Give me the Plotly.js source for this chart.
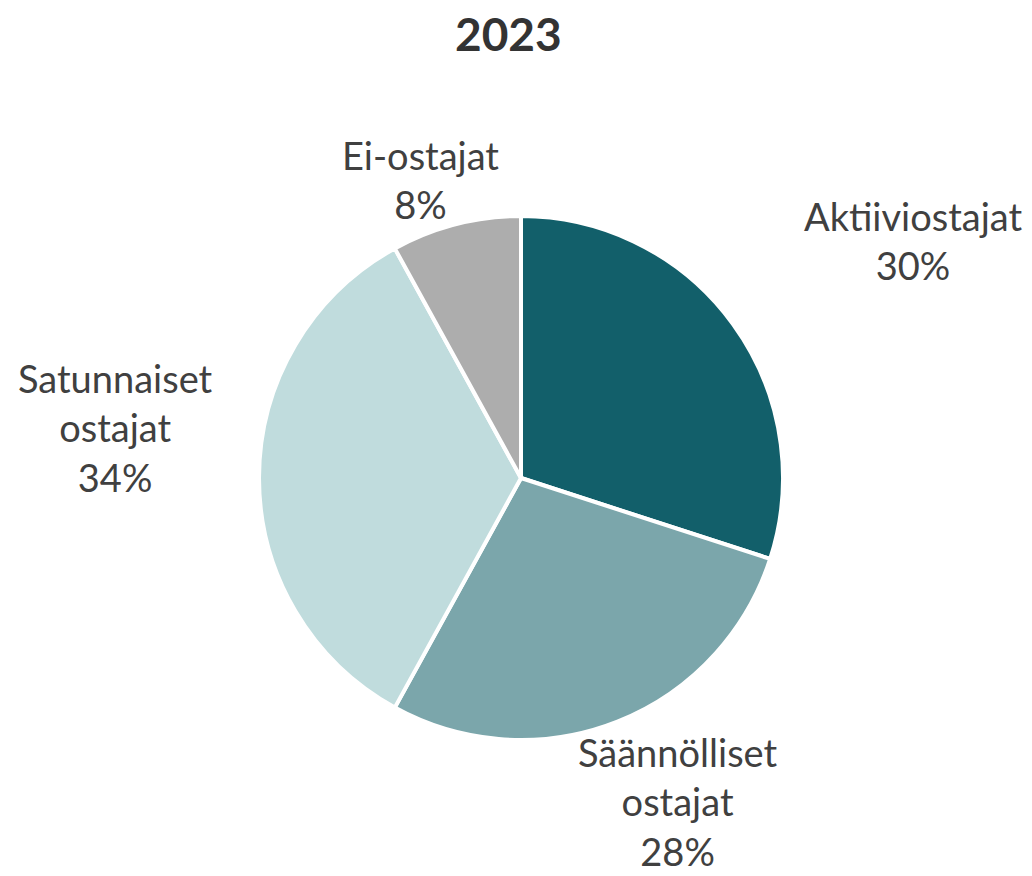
<!DOCTYPE html>
<html>
<head>
<meta charset="utf-8">
<script src="https://cdn.plot.ly/plotly-3.0.1.min.js"></script>
<style>html,body{margin:0;padding:0;background:#fff}#chart{width:1032px;height:876px}</style>
</head>
<body>
<div id="chart"></div>
<script>
const title = '2023';
const labels = ['Aktiiviostajat', 'Säännölliset ostajat', 'Satunnaiset ostajat', 'Ei-ostajat'];
const values = [30, 28, 34, 8];
const colors = ['#125F6A', '#7BA6AB', '#C0DCDD', '#ADADAD'];
// label anchor positions in pixels (center of text block)
const labelPos = [[913, 240], [678, 801], [115, 427], [420, 180]];

const W = 1032, H = 876;
const cx = 521, cy = 478, r = 262;
const total = values.reduce((a, b) => a + b, 0);

const annotations = labels.map((l, i) => ({
  text: l.replace(' ', '<br>') + '<br>' + Math.round(values[i] / total * 100) + '%',
  x: labelPos[i][0] / W, y: 1 - labelPos[i][1] / H,
  xref: 'paper', yref: 'paper', xanchor: 'center', yanchor: 'middle',
  showarrow: false, align: 'center',
  font: {family: 'Lato, "Open Sans", sans-serif', size: 38, color: '#404040'}
}));
annotations.push({
  text: '<b>' + title + '</b>', x: 508 / W, y: 1 - 34 / H, xref: 'paper', yref: 'paper',
  xanchor: 'center', yanchor: 'middle', showarrow: false,
  font: {family: 'Lato, "Open Sans", sans-serif', size: 46, color: '#333333'}
});

Plotly.newPlot('chart', [{
  type: 'pie', labels: labels, values: values, sort: false, direction: 'clockwise', rotation: 0,
  marker: {colors: colors, line: {color: '#ffffff', width: 4}},
  textinfo: 'none', hoverinfo: 'label+percent',
  domain: {x: [(cx - r) / W, (cx + r) / W], y: [(H - cy - r) / H, (H - cy + r) / H]}
}], {
  width: W, height: H, showlegend: false,
  margin: {l: 0, r: 0, t: 0, b: 0},
  paper_bgcolor: '#fff', plot_bgcolor: '#fff',
  annotations: annotations
}, {displayModeBar: false, staticPlot: true});
</script>
</body>
</html>
